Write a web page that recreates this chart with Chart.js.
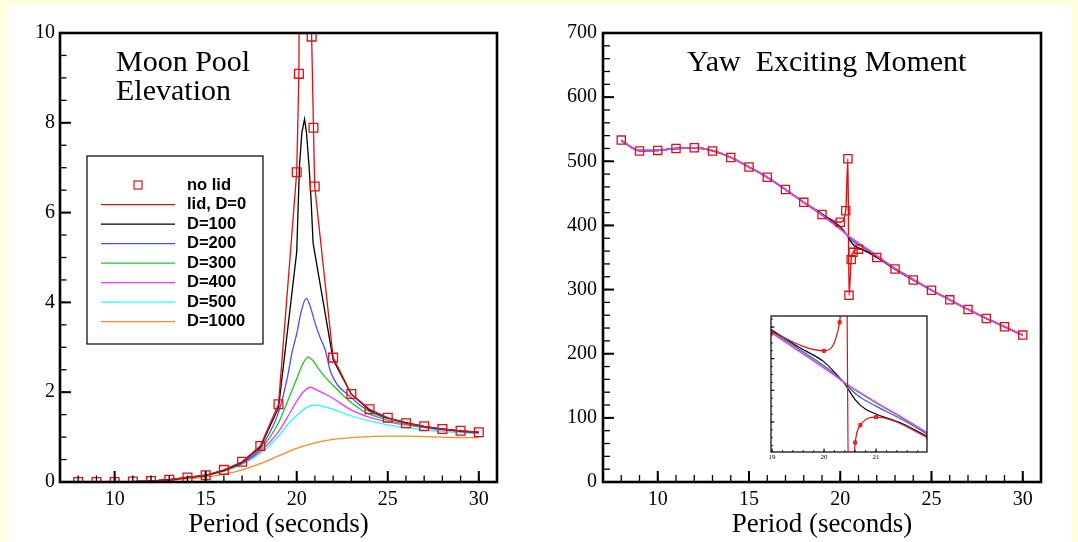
<!DOCTYPE html>
<html>
<head>
<meta charset="utf-8">
<title>Moon Pool Elevation and Yaw Exciting Moment</title>
<script src="https://cdn.jsdelivr.net/npm/chart.js@4.4.1/dist/chart.umd.min.js"></script>
<style>
  html, body { margin: 0; padding: 0; }
  body { width: 1078px; height: 542px; overflow: hidden; background: #ffffe0; position: relative; }
  #sheet { position: absolute; left: 7px; top: 5px; width: 1064px; height: 537px; background: #ffffff; }
  canvas { position: absolute; }
  #elevation { left: 0; top: 0; }
  #yaw { left: 539px; top: 0; }
  #yawZoom { left: 741px; top: 300px; }
</style>
</head>
<body>
<div id="sheet"></div>
<canvas id="elevation" width="539" height="542"></canvas>
<canvas id="yaw" width="539" height="542"></canvas>
<canvas id="yawZoom" width="200" height="170"></canvas>
<script>
// ---------- tick labels ----------
const periodTicks = [10, 15, 20, 25, 30];
const elevationTicks = [0, 2, 4, 6, 8, 10];
const momentTicks = [0, 100, 200, 300, 400, 500, 600, 700];
const zoomPeriodTicks = [19, 20, 21];

// ---------- Moon pool elevation ----------
// no lid (markers) and lid with D=0 (line) share the same response
const poolPeriodD0 = [8, 9, 10, 11, 12, 13, 14, 15, 16, 17, 18, 19, 20, 20.12, 20.47, 20.82, 20.92, 20.99, 22, 23, 24, 25, 26, 27, 28, 29, 30];
const poolElevD0   = [0, 0, 0, 0.01, 0.02, 0.05, 0.1, 0.15, 0.27, 0.45, 0.8, 1.73, 6.9, 9.09, 40, 9.92, 7.89, 6.58, 2.77, 1.96, 1.62, 1.43, 1.31, 1.24, 1.18, 1.14, 1.11];

const poolPeriodD100 = [11, 12, 13, 14, 15, 16, 17, 18, 19, 20, 20.15, 20.28, 20.43, 20.54, 20.68, 20.79, 20.9, 22, 23, 24, 25, 26, 27, 28, 29, 30];
const poolElevD100   = [0.01, 0.02, 0.05, 0.1, 0.15, 0.26, 0.44, 0.78, 1.65, 5.12, 7.02, 7.77, 8.08, 7.77, 7.02, 6.28, 5.32, 2.72, 1.95, 1.6, 1.43, 1.32, 1.24, 1.18, 1.14, 1.11];

const poolPeriodD200 = [11, 12, 13, 14, 15, 16, 17, 18, 19, 19.5, 19.75, 20, 20.25, 20.52, 20.75, 21, 21.3, 21.57, 21.85, 23, 24, 25, 26, 27, 28, 29, 30];
const poolElevD200   = [0.01, 0.02, 0.05, 0.1, 0.15, 0.26, 0.43, 0.76, 1.55, 2.35, 2.9, 3.3, 3.8, 4.09, 3.9, 3.55, 3.2, 2.94, 2.47, 1.88, 1.57, 1.42, 1.31, 1.23, 1.17, 1.13, 1.1];

const poolPeriodD300 = [11, 12, 13, 14, 15, 16, 17, 18, 19, 19.5, 20, 20.3, 20.62, 20.9, 21.2, 21.6, 22, 22.9, 23.8, 25, 26, 27, 28, 29, 30];
const poolElevD300   = [0.01, 0.02, 0.05, 0.1, 0.15, 0.25, 0.42, 0.72, 1.32, 1.8, 2.3, 2.6, 2.78, 2.7, 2.52, 2.32, 2.15, 1.8, 1.55, 1.38, 1.29, 1.22, 1.17, 1.13, 1.1];

const poolPeriodD400 = [11, 12, 13, 14, 15, 16, 17, 18, 19, 19.5, 20, 20.4, 20.74, 21, 21.5, 22, 23, 24, 25, 26, 27, 28, 29, 30];
const poolElevD400   = [0.01, 0.02, 0.05, 0.1, 0.15, 0.25, 0.41, 0.68, 1.12, 1.45, 1.8, 2.02, 2.11, 2.07, 1.97, 1.86, 1.6, 1.44, 1.34, 1.27, 1.21, 1.16, 1.12, 1.09];

const poolPeriodD500 = [11, 12, 13, 14, 15, 16, 17, 18, 19, 19.5, 20, 20.5, 20.88, 21.5, 22, 23, 24, 25, 26, 27, 28, 29, 30];
const poolElevD500   = [0.01, 0.02, 0.05, 0.09, 0.14, 0.24, 0.39, 0.64, 1.02, 1.28, 1.48, 1.65, 1.71, 1.68, 1.62, 1.47, 1.36, 1.27, 1.21, 1.16, 1.12, 1.1, 1.08];

const poolPeriodD1000 = [11, 12, 13, 14, 15, 16, 17, 18, 19, 20, 21, 22, 23, 24, 25, 26, 27, 28, 29, 30];
const poolElevD1000   = [0.01, 0.02, 0.04, 0.07, 0.11, 0.17, 0.27, 0.41, 0.58, 0.75, 0.87, 0.95, 0.99, 1.01, 1.02, 1.02, 1.01, 1.0, 0.99, 0.99];

// ---------- Yaw exciting moment ----------
const yawPeriodD0 = [8, 9, 10, 11, 12, 13, 14, 15, 16, 17, 18, 19, 20, 20.3, 20.42, 20.48, 20.6, 20.7, 21, 22, 23, 24, 25, 26, 27, 28, 29, 30];
const yawMomentD0 = [533, 516, 517, 520, 521, 516, 506, 491, 475, 456, 436, 417, 405, 423, 504, 291, 347, 358, 363, 350, 332, 315, 299, 284, 269, 255, 242, 229];

const yawPeriod = [8, 9, 10, 11, 12, 13, 14, 15, 16, 17, 18, 19, 19.5, 20, 20.2, 20.4, 20.6, 20.8, 21, 21.5, 22, 23, 24, 25, 26, 27, 28, 29, 30];
const yawMomentD100 = [532, 517, 517, 520, 521, 517, 506, 491, 475, 456, 436, 418, 407.5, 398, 391.5, 384, 374, 368, 365, 359, 350.5, 332, 315, 299, 284, 269, 255, 242, 229];
const yawMomentD200 = [532, 517, 517, 520, 521, 517, 506, 491, 475, 456, 436, 417, 406.5, 395.5, 390.5, 384.6, 378, 373.5, 370, 361.5, 352, 332.5, 315.5, 299, 284, 269, 255, 242, 229];
const yawMomentD300 = [532, 517, 517, 520, 521, 517, 506, 491, 475, 456, 436, 416.5, 405.5, 394.5, 389.7, 384.6, 380, 376, 372, 362.5, 352.8, 333, 316, 299, 284, 269, 255, 242, 229];
const yawMomentD400 = [532, 517, 517, 520, 521, 517, 506, 491, 475, 456, 436, 416, 405, 394, 389.5, 384.6, 380.5, 376.5, 372.5, 363, 353, 333, 316, 299, 284, 269, 255, 242, 229];

// ---------- styling ----------
const SERIF = '"Liberation Serif", "Times New Roman", serif';
const SANS = '"Liberation Sans", Arial, sans-serif';
const RED = '#e01010';
const COLORS = { d100: '#000000', d200: '#4a4aff', d300: '#1ec81e', d400: '#ff33ff', d500: '#22ffff', d1000: '#ff8a20' };

function points(xs, ys) { return xs.map((x, i) => ({ x: x, y: ys[i] })); }

function curve(label, xs, ys, color, width, extra) {
  return Object.assign({
    label: label, data: points(xs, ys),
    borderColor: color, backgroundColor: color, borderWidth: width,
    pointRadius: 0, fill: false, tension: 0, clip: 0
  }, extra || {});
}

function markers(label, xs, ys, radius) {
  return {
    label: label, data: points(xs, ys), showLine: false,
    pointStyle: 'rect', pointRadius: radius, pointBorderWidth: 1.3,
    pointBorderColor: RED, pointBackgroundColor: 'rgba(0,0,0,0)',
    borderColor: RED, backgroundColor: 'rgba(0,0,0,0)'
  };
}

// frame with inward tick marks
const frameTicks = {
  id: 'frameTicks',
  beforeDatasetsDraw(chart, args, o) {
    if (!o.fill) return;
    const a = chart.chartArea, ctx = chart.ctx;
    ctx.save();
    ctx.fillStyle = o.fill;
    ctx.fillRect(a.left, a.top, a.right - a.left, a.bottom - a.top);
    ctx.restore();
  },
  afterDatasetsDraw(chart, args, o) {
    const ctx = chart.ctx, a = chart.chartArea, sx = chart.scales.x, sy = chart.scales.y;
    ctx.save();
    ctx.strokeStyle = '#000';
    function mark(scale, step, len, width, horizontal) {
      const i0 = Math.ceil(scale.min / step - 1e-6), i1 = Math.floor(scale.max / step + 1e-6);
      ctx.lineWidth = width;
      for (let i = i0; i <= i1; i++) {
        const p = scale.getPixelForValue(i * step);
        ctx.beginPath();
        if (horizontal) { ctx.moveTo(p, a.bottom); ctx.lineTo(p, a.bottom - len); }
        else { ctx.moveTo(a.left, p); ctx.lineTo(a.left + len, p); }
        ctx.stroke();
      }
    }
    mark(sx, o.xMinor, o.minorLen, o.minorWidth, true);
    mark(sx, o.xMajor, o.majorLen, o.majorWidth, true);
    mark(sy, o.yMinor, o.minorLen, o.minorWidth, false);
    mark(sy, o.yMajor, o.majorLen, o.majorWidth, false);
    ctx.lineWidth = o.frameWidth;
    ctx.strokeRect(a.left, a.top, a.right - a.left, a.bottom - a.top);
    ctx.restore();
  }
};

// heading written inside the plot
const panelTitle = {
  id: 'panelTitle',
  afterDraw(chart, args, o) {
    const ctx = chart.ctx, a = chart.chartArea;
    ctx.save();
    ctx.fillStyle = '#000';
    ctx.font = o.size + 'px ' + SERIF;
    ctx.textAlign = 'left';
    ctx.textBaseline = 'alphabetic';
    o.lines.forEach((t, i) => ctx.fillText(t, a.left + o.dx, a.top + o.dy + i * o.gap));
    ctx.restore();
  }
};

// boxed legend inside the elevation plot
const boxLegend = {
  id: 'boxLegend',
  afterDraw(chart, args, o) {
    const ctx = chart.ctx, a = chart.chartArea;
    const left = a.left + o.dx, top = a.top + o.dy;
    ctx.save();
    ctx.fillStyle = '#fff';
    ctx.fillRect(left, top, o.width, o.height);
    ctx.strokeStyle = '#000';
    ctx.lineWidth = 1.2;
    ctx.strokeRect(left, top, o.width, o.height);
    ctx.font = 'bold ' + o.size + 'px ' + SANS;
    ctx.textBaseline = 'middle';
    ctx.textAlign = 'left';
    chart.data.datasets.forEach((ds, i) => {
      const yy = top + o.firstRow + i * o.rowGap;
      if (ds.showLine === false) {
        const h = o.markSize / 2;
        ctx.strokeStyle = ds.pointBorderColor;
        ctx.lineWidth = 1.2;
        ctx.strokeRect(left + o.markX - h, yy - h, o.markSize, o.markSize);
      } else {
        ctx.strokeStyle = ds.borderColor;
        ctx.lineWidth = ds.borderWidth;
        ctx.beginPath();
        ctx.moveTo(left + o.lineX0, yy);
        ctx.lineTo(left + o.lineX1, yy);
        ctx.stroke();
      }
      ctx.fillStyle = '#000';
      ctx.fillText(ds.label, left + o.textX, yy);
    });
    ctx.restore();
  }
};

function xAxis(min, max, tickList, fontSize, pad, height, title) {
  return {
    type: 'linear', min: min, max: max,
    afterBuildTicks: s => { s.ticks = tickList.map(v => ({ value: v })); },
    afterFit: s => { s.height = height; },
    grid: { display: false, drawTicks: false },
    border: { display: false },
    ticks: { color: '#000', font: { family: SERIF, size: fontSize }, padding: pad, maxRotation: 0, autoSkip: false },
    title: title ? { display: true, text: title, color: '#000', font: { family: SERIF, size: 27 }, padding: { top: 0, bottom: 1 } } : { display: false }
  };
}

function yAxis(min, max, tickList, width, pad, showLabels) {
  return {
    type: 'linear', min: min, max: max,
    afterBuildTicks: s => { s.ticks = tickList.map(v => ({ value: v })); },
    afterFit: s => { s.width = width; },
    grid: { display: false, drawTicks: false },
    border: { display: false },
    ticks: { display: showLabels, color: '#000', font: { family: SERIF, size: 20 }, padding: pad, autoSkip: false }
  };
}

const baseOptions = {
  responsive: false, animation: false, events: []
};

// ---------- left: moon pool elevation ----------
const elevationSets = [
  markers('no lid', poolPeriodD0, poolElevD0, 6.2),
  curve('lid, D=0', poolPeriodD0, poolElevD0, RED, 1.3),
  curve('D=100', poolPeriodD100, poolElevD100, COLORS.d100, 1.3),
  curve('D=200', poolPeriodD200, poolElevD200, COLORS.d200, 1.3, { cubicInterpolationMode: 'monotone' }),
  curve('D=300', poolPeriodD300, poolElevD300, COLORS.d300, 1.3, { cubicInterpolationMode: 'monotone' }),
  curve('D=400', poolPeriodD400, poolElevD400, COLORS.d400, 1.3, { cubicInterpolationMode: 'monotone' }),
  curve('D=500', poolPeriodD500, poolElevD500, COLORS.d500, 1.3, { cubicInterpolationMode: 'monotone' }),
  curve('D=1000', poolPeriodD1000, poolElevD1000, COLORS.d1000, 1.3, { cubicInterpolationMode: 'monotone' })
];

new Chart(document.getElementById('elevation'), {
  type: 'line',
  data: { datasets: elevationSets },
  options: Object.assign({}, baseOptions, {
    layout: { padding: { top: 33, right: 42, left: 0, bottom: 0 } },
    scales: {
      x: xAxis(7, 31, periodTicks, 20, 6, 60, 'Period (seconds)'),
      y: yAxis(0, 10, elevationTicks, 60, 5, true)
    },
    plugins: {
      legend: { display: false }, tooltip: { enabled: false },
      frameTicks: { xMinor: 1, xMajor: 5, yMinor: 0.5, yMajor: 2, majorLen: 11, minorLen: 6.5, majorWidth: 2, minorWidth: 1.3, frameWidth: 2.6 },
      panelTitle: { lines: ['Moon Pool', 'Elevation'], size: 30, dx: 56, dy: 38, gap: 29.4 },
      boxLegend: { dx: 27, dy: 123, width: 176, height: 188, firstRow: 29, rowGap: 19.53, markX: 51, markSize: 8, lineX0: 14, lineX1: 88, textX: 100, size: 16.5 }
    }
  }),
  plugins: [frameTicks, boxLegend, panelTitle]
});

// ---------- right: yaw exciting moment ----------
// first dataset is drawn on top; in the full view the D=0 line sits under the damped curves,
// in the close-up it crosses over them
function yawSets(zoomed) {
  const w = zoomed ? 1.2 : 1.5;
  const damped = [
    curve('D=400', yawPeriod, yawMomentD400, COLORS.d400, w, { cubicInterpolationMode: 'monotone' }),
    curve('D=300', yawPeriod, yawMomentD300, COLORS.d300, w, { cubicInterpolationMode: 'monotone' }),
    curve('D=200', yawPeriod, yawMomentD200, COLORS.d200, w, { cubicInterpolationMode: 'monotone' }),
    curve('D=100', yawPeriod, yawMomentD100, COLORS.d100, w, { cubicInterpolationMode: 'monotone' })
  ];
  if (zoomed) {
    const red = curve('lid, D=0', yawPeriodD0, yawMomentD0, RED, 1.2, {
      cubicInterpolationMode: 'monotone', pointStyle: 'rect', pointRadius: 2.2,
      pointBorderColor: RED, pointBackgroundColor: 'rgba(224,16,16,0.55)', pointBorderWidth: 1 });
    return [red].concat(damped);
  }
  const red = curve('lid, D=0', yawPeriodD0, yawMomentD0, RED, 1.4, { cubicInterpolationMode: 'monotone' });
  return [markers('no lid', yawPeriodD0, yawMomentD0, 5.8)].concat(damped, [red]);
}

new Chart(document.getElementById('yaw'), {
  type: 'line',
  data: { datasets: yawSets(false) },
  options: Object.assign({}, baseOptions, {
    layout: { padding: { top: 33, right: 37, left: 0, bottom: 0 } },
    scales: {
      x: xAxis(7, 31, periodTicks, 20, 6, 60, 'Period (seconds)'),
      y: yAxis(0, 700, momentTicks, 64, 6, true)
    },
    plugins: {
      legend: { display: false }, tooltip: { enabled: false },
      frameTicks: { xMinor: 1, xMajor: 5, yMinor: 20, yMajor: 100, majorLen: 11, minorLen: 7, majorWidth: 2, minorWidth: 1.3, frameWidth: 2.6 },
      panelTitle: { lines: ['Yaw  Exciting Moment'], size: 30, dx: 84, dy: 38, gap: 0 }
    }
  }),
  plugins: [frameTicks, panelTitle]
});

// ---------- inset: close-up of the yaw moment near resonance ----------
new Chart(document.getElementById('yawZoom'), {
  type: 'line',
  data: { datasets: yawSets(true) },
  options: Object.assign({}, baseOptions, {
    layout: { padding: { top: 16, right: 14, left: 0, bottom: 0 } },
    scales: {
      x: xAxis(18.98, 21.98, zoomPeriodTicks, 7, 1, 18, null),
      y: yAxis(341, 427, [], 30, 2, false)
    },
    plugins: {
      legend: { display: false }, tooltip: { enabled: false },
      frameTicks: { fill: '#ffffff', xMinor: 0.2, xMajor: 1, yMinor: 5, yMajor: 20, majorLen: 3.5, minorLen: 2, majorWidth: 1, minorWidth: 0.8, frameWidth: 1.2 }
    }
  }),
  plugins: [frameTicks]
});
</script>
</body>
</html>
